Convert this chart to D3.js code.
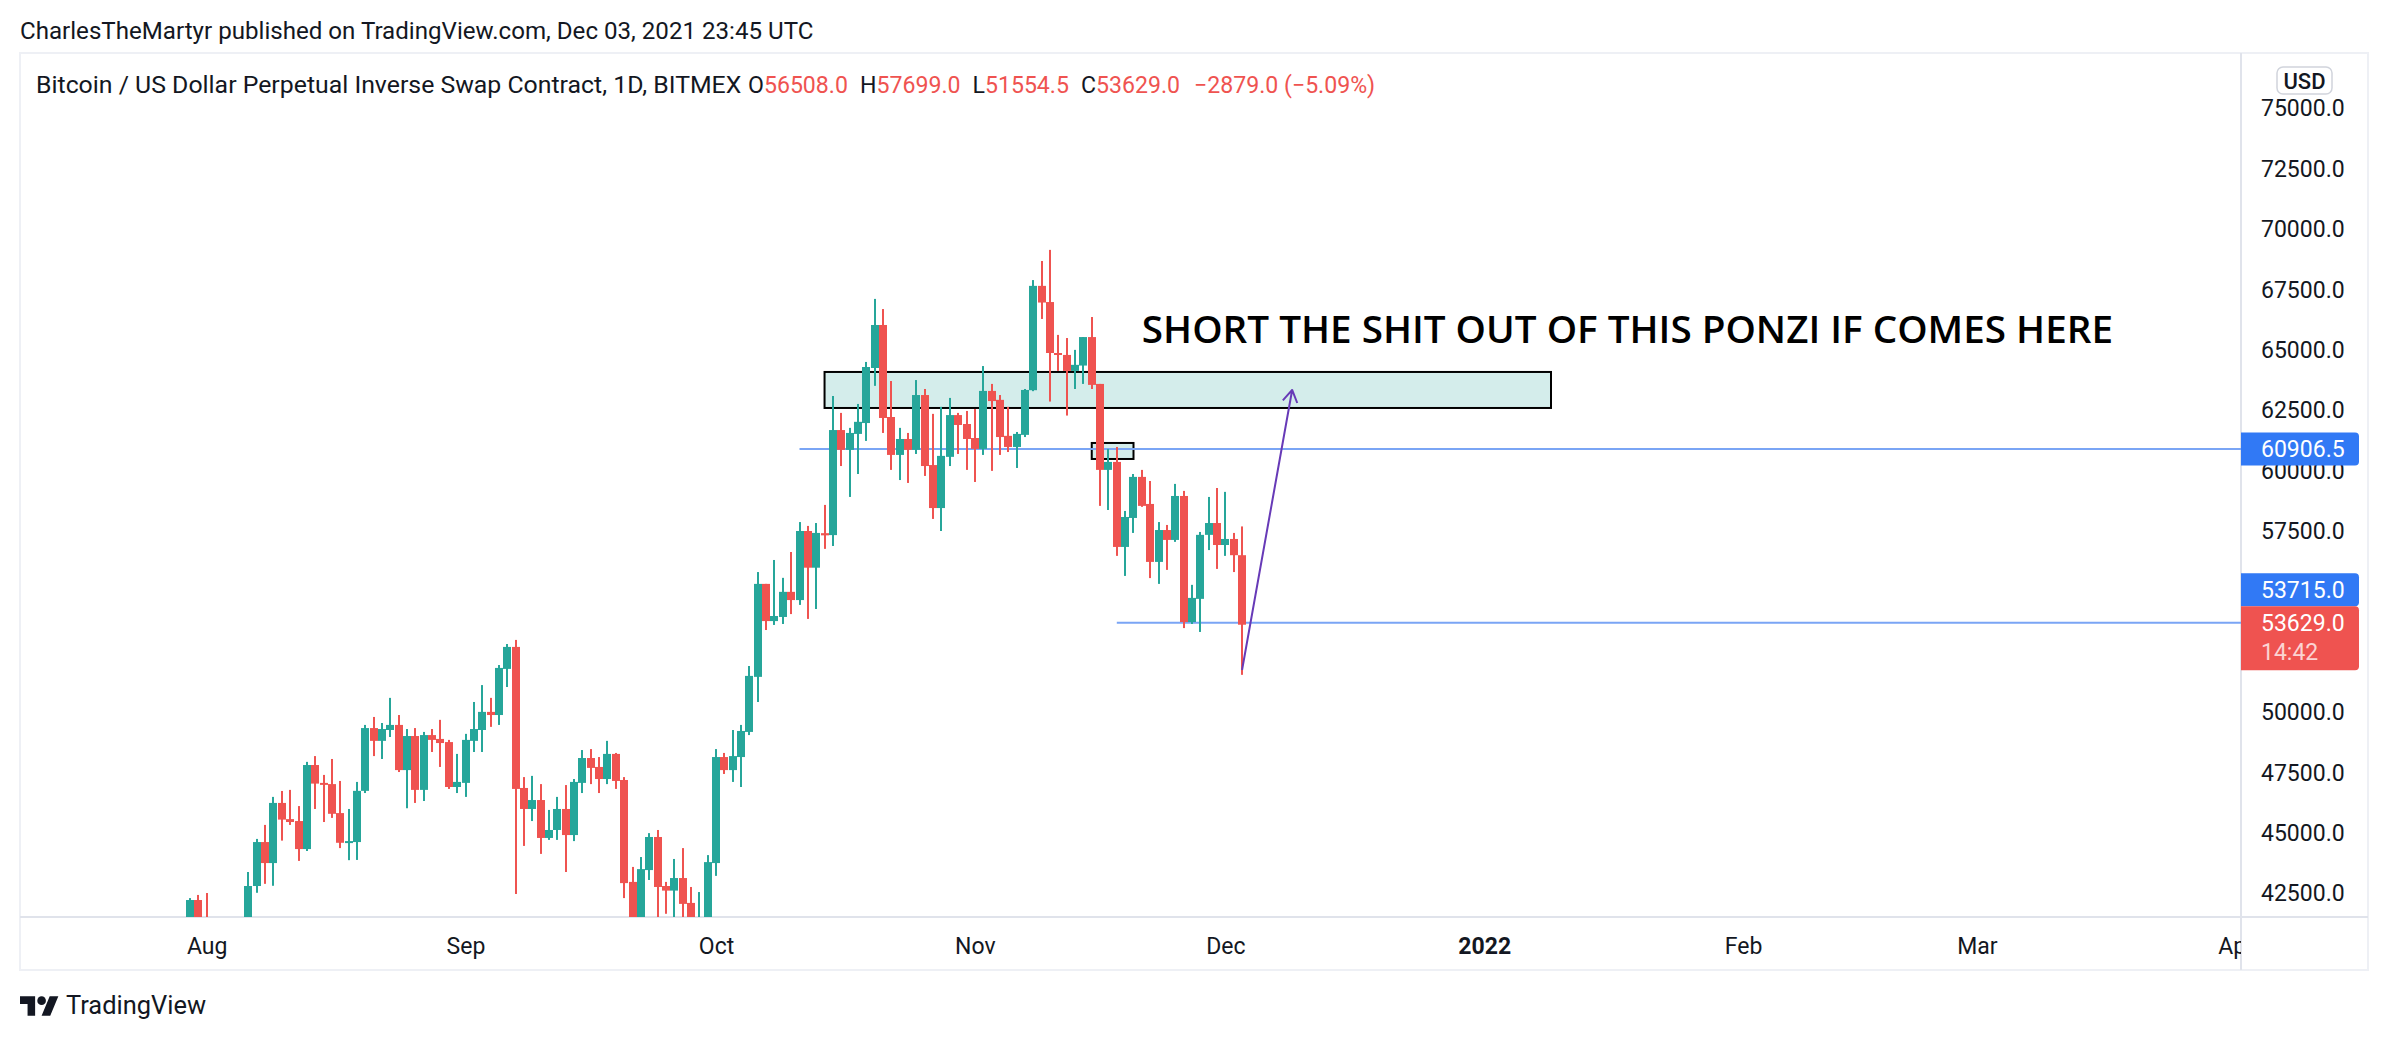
<!DOCTYPE html>
<html>
<head>
<meta charset="utf-8">
<script src="https://cdn.jsdelivr.net/npm/d3@7"></script>
<style>
  body { margin: 0; background: #fff; }
  svg { display: block; font-family: Roboto, "Noto Sans", sans-serif; }
</style>
</head>
<body>
<svg id="chart"></svg>
<script>
const W = 2388, H = 1042;

// daily candles, BITMEX XBTUSD, from firstDay onward
const firstDay = "2021-07-30";
const opens = [40000,42230,41500,39900,39200,38200,39700,40900,42810,44630,43760,46250,45580,45500,44340,47820,47080,47030,45830,44600,44630,46750,49350,48820,49270,49480,47610,49020,46790,49060,48900,48770,46910,47080,48820,49270,50020,49890,51800,52710,46870,46000,46370,44800,45130,46000,44920,47080,48110,47740,47240,48280,47200,42980,40700,43470,44840,42810,42620,43140,42110,41000,41500,43760,48150,47610,48150,49190,51470,55320,53780,53950,54990,54650,57510,55990,57420,57340,61690,60870,61530,61980,64260,66040,62230,60660,61320,60870,63140,60240,58460,60580,62310,61940,61360,60910,63310,62940,61450,60990,61490,63340,67660,66990,64880,64800,64140,64360,65540,63600,60040,60370,56850,58050,59750,58630,56230,57550,57140,58960,53740,54700,57350,57840,56930,57180,56508];
const highs = [42310,42440,42520,40400,39800,39900,41300,43390,44760,45340,46500,46745,46790,46120,47950,48190,47410,48070,47160,46000,47120,49480,49810,49560,50600,49890,49310,49350,49190,49310,49690,48860,48280,49110,50430,51130,50600,51960,52830,53000,47320,47370,47030,45960,46500,46990,47240,48440,48480,48150,48820,48320,47320,43600,44010,45000,45130,42980,43930,44380,42770,42560,44090,48480,48320,49270,49480,51920,55810,55320,56310,55570,56640,57880,57720,57840,58590,63100,62400,61780,62770,64510,67120,66700,63720,61780,61570,63760,63390,62360,62650,63020,62400,62480,62560,64340,63600,63140,62650,61610,63390,67900,68690,69150,65630,65500,65010,65540,66370,63600,60910,60990,58340,59870,60040,59580,57880,57760,59460,59170,55280,57470,58920,59290,59130,57430,57699];
const lows = [38350,41100,39400,38700,37600,37500,37300,39900,42530,42900,42820,44690,45340,43850,44260,46000,45460,45630,44380,43880,43890,46660,48190,48070,48980,47530,46030,46250,46330,48360,47740,46830,46660,46500,48360,48360,49400,49480,51050,42480,44470,45500,44140,44720,44720,43390,44670,46660,47030,46660,47030,46830,42310,39600,40500,43060,40900,41660,40800,41400,40900,40800,41400,43230,47450,47120,46910,49060,50430,53410,53620,53660,54070,54450,53870,54280,56770,56890,60200,58920,59870,61240,63520,61570,60040,59620,59500,60700,59790,58010,57510,60200,60700,60040,59540,60660,60000,60660,60780,60120,61400,63300,66290,62870,64140,62290,63390,63600,63390,58550,58380,56480,55650,57430,58510,55560,55320,55900,57060,53490,53660,53330,56720,55940,56480,55810,51554.5];
const closes = [42230,41500,39900,39200,38200,39700,40900,42810,44630,43760,46250,45560,45460,44340,47820,47050,47000,45800,44600,44670,46750,49350,48820,49310,49480,47610,49020,46790,49060,48860,48730,46910,47120,48860,49310,50020,49890,51840,52710,46830,46000,46370,44800,45130,46000,44920,47120,48110,47700,47240,48280,47160,42930,40700,43510,44840,42770,42620,43140,42070,41000,41500,43800,48150,47610,48190,49230,51510,55320,53780,53990,54990,54650,57510,55990,57430,57330,61690,60870,61570,62030,64300,66040,62190,60660,61320,60870,63140,60200,58460,60620,62310,61900,61320,60910,63310,62890,61400,60990,61530,63350,67660,66970,64880,64800,64140,64390,65540,63560,60040,60370,56850,58090,59750,58550,56230,57550,57140,58960,53740,54740,57350,57840,56930,57180,56508,53629];

const priceTicks = d3.range(42500, 75001, 2500);
const monthTicks = ["2021-08-01", "2021-09-01", "2021-10-01", "2021-11-01", "2021-12-01", "2022-01-01", "2022-02-01", "2022-03-01", "2022-04-01"];
const monthLabels = ["Aug", "Sep", "Oct", "Nov", "Dec", "2022", "Feb", "Mar", "Apr"];

// drawings on the chart
const levelPrices = [60906.5, 53715];
const levelStarts = ["2021-10-11", "2021-11-18"];
const zoneDates = ["2021-10-14", "2022-01-09"];
const zonePrices = [62604, 64095];
const smallBoxDates = ["2021-11-15", "2021-11-20"];
const smallBoxPrices = [60492, 61155];
const arrowDates = ["2021-12-03", "2021-12-09"];
const arrowPrices = [51755, 63350];
const noteText = "SHORT THE SHIT OUT OF THIS PONZI IF COMES HERE";
const noteAt = ["2021-11-21", 65300];

const headerText = "CharlesTheMartyr published on TradingView.com, Dec 03, 2021 23:45 UTC";
const symbolTitle = "Bitcoin / US Dollar Perpetual Inverse Swap Contract, 1D, BITMEX";
const countdown = "14:42";

const dark = "#131722", up = "#26a69a", down = "#ef5350";
const levelColor = "#7aa5f5", badgeBlue = "#3179f5";

const plot = { left: 20, top: 54, right: 2241, bottom: 917 };
const frame = { left: 20, top: 53, right: 2368, bottom: 970 };
const dayW = 8.35;

const parse = d3.utcParse("%Y-%m-%d");
const x = d3.scaleUtc()
  .domain([parse("2021-10-01"), parse("2022-01-01")])
  .range([716, 716 + 92 * dayW]);
const y = d3.scaleLinear().domain([42500, 75000]).range([893.5, 108.6]);

const start = parse(firstDay);
const candles = opens.map((o, i) => ({
  date: d3.utcDay.offset(start, i),
  o, h: highs[i], l: lows[i], c: closes[i],
}));

const svg = d3.select("#chart").attr("width", W).attr("height", H);
svg.append("rect").attr("width", W).attr("height", H).attr("fill", "#fff");

const defs = svg.append("defs");
defs.append("clipPath").attr("id", "plotclip").append("rect")
  .attr("x", plot.left).attr("y", plot.top)
  .attr("width", plot.right - plot.left).attr("height", plot.bottom - plot.top);
defs.append("clipPath").attr("id", "xclip").append("rect")
  .attr("x", plot.left).attr("y", plot.bottom)
  .attr("width", plot.right - plot.left).attr("height", frame.bottom - plot.bottom);

// frame + separators
svg.append("rect")
  .attr("x", frame.left).attr("y", frame.top)
  .attr("width", frame.right - frame.left).attr("height", frame.bottom - frame.top)
  .attr("fill", "none").attr("stroke", "#eef0f5").attr("stroke-width", 2);
svg.append("line")
  .attr("x1", plot.right).attr("x2", plot.right).attr("y1", frame.top).attr("y2", frame.bottom)
  .attr("stroke", "#e0e3eb").attr("stroke-width", 2);
svg.append("line")
  .attr("x1", frame.left).attr("x2", frame.right).attr("y1", plot.bottom).attr("y2", plot.bottom)
  .attr("stroke", "#e0e3eb").attr("stroke-width", 2);

const pane = svg.append("g").attr("clip-path", "url(#plotclip)");

// boxes
function box(dates, prices) {
  const x0 = x(parse(dates[0])), x1 = x(parse(dates[1]));
  const y0 = y(prices[1]), y1 = y(prices[0]);
  pane.append("rect")
    .attr("x", x0).attr("y", y0).attr("width", x1 - x0).attr("height", y1 - y0)
    .attr("fill", "rgba(38,166,154,0.2)").attr("stroke", "#000").attr("stroke-width", 2);
}
box(zoneDates, zonePrices);
box(smallBoxDates, smallBoxPrices);

// horizontal rays
pane.selectAll(".level")
  .data(levelPrices)
  .join("line")
  .attr("class", "level")
  .attr("x1", (d, i) => x(parse(levelStarts[i])))
  .attr("x2", plot.right)
  .attr("y1", (d) => y(d)).attr("y2", (d) => y(d))
  .attr("stroke", levelColor).attr("stroke-width", 2);

// candles
const cg = pane.selectAll(".candle")
  .data(candles)
  .join("g")
  .attr("class", "candle")
  .attr("fill", (d) => (d.c >= d.o ? up : down));
cg.append("rect")
  .attr("x", (d) => Math.round(x(d.date) - 4) + 3)
  .attr("width", 2)
  .attr("y", (d) => y(d.h))
  .attr("height", (d) => Math.max(1, y(d.l) - y(d.h)));
cg.append("rect")
  .attr("x", (d) => Math.round(x(d.date) - 4))
  .attr("width", 8)
  .attr("y", (d) => y(Math.max(d.o, d.c)))
  .attr("height", (d) => Math.max(2, Math.abs(y(d.o) - y(d.c))));

// arrow
const ax0 = x(parse(arrowDates[0])), ay0 = y(arrowPrices[0]);
const ax1 = x(parse(arrowDates[1])), ay1 = y(arrowPrices[1]);
const ang = Math.atan2(ay1 - ay0, ax1 - ax0);
const head = 14, spread = 0.55;
pane.append("path")
  .attr("d", `M${ax0},${ay0}L${ax1},${ay1}` +
    `M${ax1 - head * Math.cos(ang - spread)},${ay1 - head * Math.sin(ang - spread)}L${ax1},${ay1}` +
    `L${ax1 - head * Math.cos(ang + spread)},${ay1 - head * Math.sin(ang + spread)}`)
  .attr("fill", "none").attr("stroke", "#673ab7").attr("stroke-width", 2)
  .attr("stroke-linejoin", "round");

function fit(sel, target, gaps = 0) {
  for (let k = 0; k < 2; k++) {
    const w = sel.node().getBBox().width;
    const fs = parseFloat(sel.attr("font-size"));
    sel.attr("font-size", (fs * (target - gaps)) / (w - gaps));
  }
}

// note
const note = pane.append("text")
  .attr("x", x(parse(noteAt[0]))).attr("y", y(noteAt[1]))
  .attr("font-family", "'Open Sans', sans-serif").attr("font-weight", 600)
  .attr("font-size", 38).attr("fill", "#000")
  .text(noteText);
fit(note, 971);

// time axis
const gx = svg.append("g")
  .attr("clip-path", "url(#xclip)")
  .append("g")
  .attr("transform", `translate(0,${plot.bottom})`)
  .call(d3.axisBottom(x)
    .tickValues(monthTicks.map(parse))
    .tickFormat((d, i) => monthLabels[i])
    .tickSize(0));
gx.select(".domain").remove();
gx.attr("font-size", 23).attr("font-family", "Roboto, sans-serif");
gx.selectAll("text")
  .attr("y", 29).attr("dy", "0.35em").attr("fill", dark)
  .attr("font-weight", (d, i) => (monthLabels[i] === "2022" ? 700 : 400));

// price axis badges
const n = closes.length;
const lastPrice = closes[n - 1];
const redCenter = y(lastPrice) + 13;
const redTop = y(lastPrice) - 18.5;
const badgeCenters = [y(levelPrices[0]), redTop - 16.5, redCenter];

const gy = svg.append("g")
  .attr("transform", `translate(${plot.right},0)`)
  .call(d3.axisRight(y)
    .tickValues(priceTicks.filter((p) => !badgeCenters.some((c) => Math.abs(y(p) - c) < 20)))
    .tickFormat(d3.format(".1f"))
    .tickSize(0).tickPadding(20));
gy.select(".domain").remove();
gy.attr("font-size", 23).attr("font-family", "Roboto, sans-serif");
gy.selectAll("text").attr("fill", dark);

const fmt = d3.format(".1f");
function badge(cy, h, color, lines) {
  svg.append("path")
    .attr("d", `M${plot.right},${cy - h / 2}h114a4,4 0 0 1 4,4v${h - 8}a4,4 0 0 1 -4,4h-114z`)
    .attr("fill", color);
  lines.forEach((t, i) => {
    svg.append("text")
      .attr("x", plot.right + 20)
      .attr("y", cy - h / 2 + 16.5 + i * 29)
      .attr("dy", "0.35em")
      .attr("font-size", 23)
      .attr("fill", i === 0 ? "#fff" : "rgba(255,255,255,0.75)")
      .text(t);
  });
}
badge(badgeCenters[0], 33, badgeBlue, [fmt(levelPrices[0])]);
badge(badgeCenters[1], 33, badgeBlue, [fmt(levelPrices[1])]);
badge(redTop + 32, 64, down, [fmt(lastPrice), countdown]);

// USD button
svg.append("rect")
  .attr("x", 2277).attr("y", 67).attr("width", 55).attr("height", 27).attr("rx", 6)
  .attr("fill", "#fff").attr("stroke", "#d1d4dc").attr("stroke-width", 1.5);
svg.append("text")
  .attr("x", 2304.5).attr("y", 81).attr("dy", "0.35em")
  .attr("text-anchor", "middle").attr("font-size", 22).attr("font-weight", 500)
  .attr("fill", dark).text("USD");

// header + legend
const header = svg.append("text")
  .attr("x", 20).attr("y", 39).attr("font-size", 23).attr("fill", dark)
  .text(headerText);
fit(header, 793);

const title = svg.append("text")
  .attr("x", 36).attr("y", 93).attr("font-size", 23).attr("fill", dark)
  .text(symbolTitle);
fit(title, 705);

const chg = lastPrice - closes[n - 2];
const legendVals = [opens[n - 1], highs[n - 1], lows[n - 1], closes[n - 1]];
const ohlc = svg.append("text")
  .attr("x", 748).attr("y", 93).attr("font-size", 23).attr("fill", dark);
["O", "H", "L", "C"].forEach((lab, i) => {
  ohlc.append("tspan").attr("dx", i === 0 ? 0 : 12).text(lab);
  ohlc.append("tspan").attr("fill", down).text(fmt(legendVals[i]));
});
ohlc.append("tspan").attr("dx", 14).attr("fill", down)
  .text(`${fmt(chg)} (${d3.format(".2f")((chg / closes[n - 2]) * 100)}%)`);
fit(ohlc, 627, 50);

// TradingView logo
const logo = svg.append("g").attr("transform", "translate(20,992) scale(1.08)").attr("fill", dark);
logo.append("path").attr("d", "M14 22H7V11H0V4h14v18zM28 22h-8l7.5-18h8L28 22z");
logo.append("circle").attr("cx", 20).attr("cy", 8).attr("r", 4);
const brand = svg.append("text")
  .attr("x", 66).attr("y", 1014).attr("font-size", 24).attr("fill", dark)
  .text("TradingView");
fit(brand, 140);
</script>
</body>
</html>
